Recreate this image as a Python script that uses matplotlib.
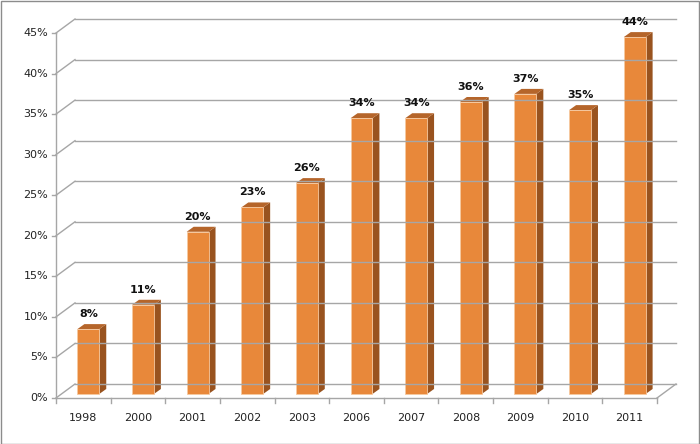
import matplotlib
matplotlib.use('Agg')
import matplotlib.pyplot as plt
from matplotlib.patches import Polygon, Rectangle

years = ['1998', '2000', '2001', '2002', '2003', '2006', '2007', '2008', '2009', '2010', '2011']
values = [8, 11, 20, 23, 26, 34, 34, 36, 37, 35, 44]
yticks = [0, 5, 10, 15, 20, 25, 30, 35, 40, 45]

W, H = 700, 444
fig = plt.figure(figsize=(W / 100, H / 100), dpi=100)
fig.patches.append(Rectangle((0.5 / W, 0.5 / H), 1 - 1.5 / W, 1 - 1.5 / H, transform=fig.transFigure,
                             fill=False, edgecolor='#8c8c8c', lw=1))
ax = fig.add_axes([56 / W, (H - 398) / H, 601 / W, 365 / H])
n = len(years)
ax.set_xlim(0, n)
ax.set_ylim(0, 45)
ax.axis('off')

px = n / 601.0
py = 45 / 365.0
bx, by = 19 * px, 14 * py  # back wall offset
grid = '#a6a6a6'

# back wall gridlines + left wall diagonals
for t in yticks:
    ax.plot([bx, n + bx], [t + by, t + by], color=grid, lw=1, clip_on=False)
    ax.plot([0, bx], [t, t + by], color=grid, lw=1, clip_on=False)
    ax.plot([-4 * px, 0], [t, t], color=grid, lw=1, clip_on=False)
    ax.text(-8 * px, t, '%d%%' % t, ha='right', va='center', fontsize=8, color='#222222')
# floor
ax.plot([0, n], [0, 0], color=grid, lw=1, clip_on=False)
ax.plot([n, n + bx], [0, by], color=grid, lw=1, clip_on=False)
ax.plot([0, 0], [0, 45], color=grid, lw=1, clip_on=False)
for i in range(n + 1):
    ax.plot([i, i], [0, -5 * py], color=grid, lw=1, clip_on=False)

# bars
ox, oy = 5 * px, 4 * py
dx, dy = 7 * px, 5 * py
bw = 0.4
front = '#e8883a'
side = '#99531f'
top = '#b5652a'
for i, v in enumerate(values):
    x0 = i + 0.5 - bw / 2 + ox
    x1 = x0 + bw
    y0 = oy
    y1 = v + oy
    ax.add_patch(Polygon([(x1, y0), (x1 + dx, y0 + dy), (x1 + dx, y1 + dy), (x1, y1)],
                         closed=True, facecolor=side, edgecolor='none', clip_on=False))
    ax.add_patch(Polygon([(x0, y1), (x1, y1), (x1 + dx, y1 + dy), (x0 + dx, y1 + dy)],
                         closed=True, facecolor=top, edgecolor='none', clip_on=False))
    ax.add_patch(Polygon([(x0, y0), (x1, y0), (x1, y1), (x0, y1)],
                         closed=True, facecolor=front, edgecolor='#f6c9a0', lw=0.6, clip_on=False))
    ax.text(i + 0.5 + ox, y1 + dy + 10 * py, '%d%%' % v, ha='center', va='center',
            fontsize=8, fontweight='bold', color='#111111')
    ax.text(i + 0.5, -20 * py, years[i], ha='center', va='center', fontsize=8, color='#222222')

fig.savefig('out.png', dpi=100)
